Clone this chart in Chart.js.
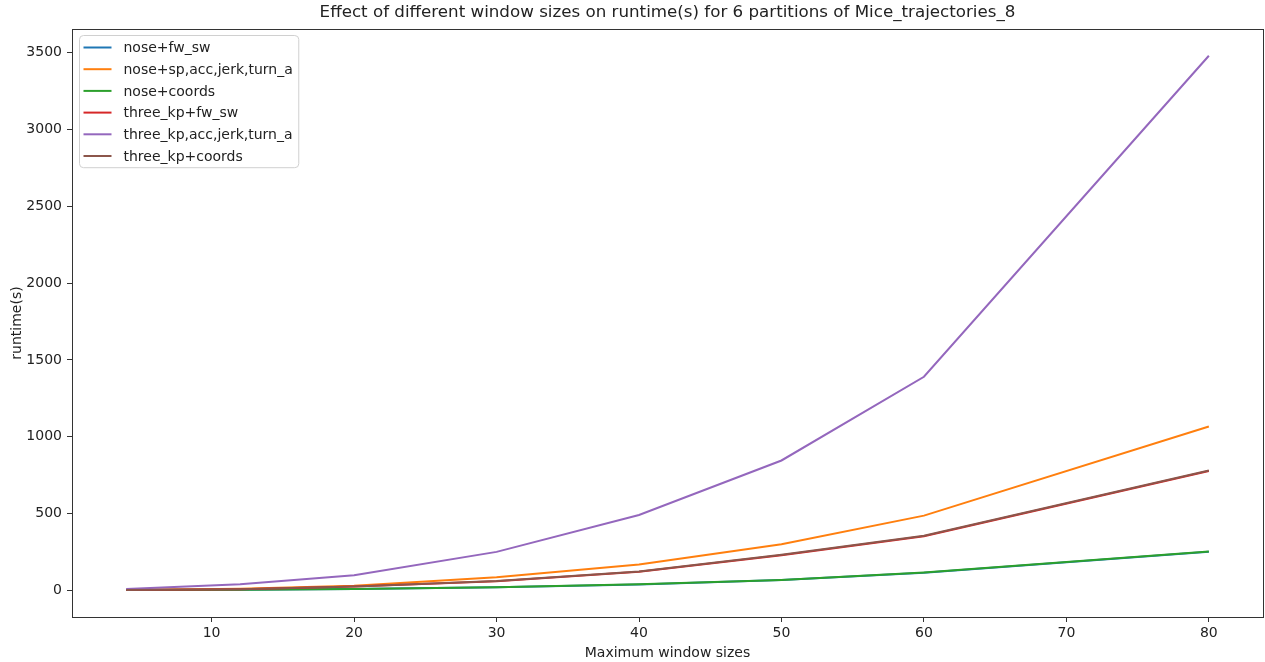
<!DOCTYPE html>
<html>
<head>
<meta charset="utf-8">
<title>Runtime vs window size</title>
<script src="https://cdn.jsdelivr.net/npm/chart.js@4"></script>
<style>
    body { margin: 0; background: #fff; }
    #wrap { width: 1265px; height: 662px; position: relative; }
</style>
</head>
<body>
<div id="wrap"><canvas id="runtimeChart"></canvas></div>
<script>
// Maximum window sizes tested
const windowSizes = [4, 12, 20, 30, 40, 50, 60, 80];

// Runtime in seconds for each feature set
const noseFwSw = [1, 3, 9, 20, 38, 67, 114, 251];
const noseSpAcc = [2, 10, 30, 85, 168, 300, 486, 1066];
const noseCoords = [1, 3, 9, 20, 39, 67, 115, 252];
const threeKpFwSw = [1, 7, 24, 59, 120, 228, 352, 776];
const threeKpAcc = [8, 39, 98, 250, 490, 845, 1390, 3480];
const threeKpCoords = [1, 7, 25, 60, 122, 231, 355, 780];

const seriesLabels = [
    'nose+fw_sw',
    'nose+sp,acc,jerk,turn_a',
    'nose+coords',
    'three_kp+fw_sw',
    'three_kp,acc,jerk,turn_a',
    'three_kp+coords'
];
const seriesValues = [noseFwSw, noseSpAcc, noseCoords, threeKpFwSw, threeKpAcc, threeKpCoords];

// Tick labels on both axes
const xTicks = [10, 20, 30, 40, 50, 60, 70, 80];
const yTicks = [0, 500, 1000, 1500, 2000, 2500, 3000, 3500];

const chartTitle = 'Effect of different window sizes on runtime(s) for 6 partitions of Mice_trajectories_8';

// matplotlib default colour cycle
const palette = ['#1f77b4', '#ff7f0e', '#2ca02c', '#d62728', '#9467bd', '#8c564b'];

const FONT = 'DejaVu Sans';
const TEXT = '#222222';
const SPINE = '#333333';

const datasets = seriesValues.map((vals, i) => ({
    label: seriesLabels[i],
    data: vals.map((v, j) => ({ x: windowSizes[j], y: v })),
    borderColor: palette[i],
    backgroundColor: palette[i],
    borderWidth: 2,
    pointRadius: 0,
    tension: 0,
    fill: false,
    // later series sit on top, like matplotlib
    order: seriesValues.length - i
}));

// Full box around the plot area (all four spines) plus a title centred over it
const framePlugin = {
    id: 'frame',
    afterDraw(chart) {
        const { ctx, chartArea: a } = chart;
        ctx.save();
        ctx.strokeStyle = SPINE;
        ctx.lineWidth = 1;
        ctx.strokeRect(Math.round(a.left) + 0.5, Math.round(a.top) + 0.5,
            Math.round(a.right - a.left), Math.round(a.bottom - a.top));
        ctx.font = `16.7px "${FONT}"`;
        ctx.fillStyle = TEXT;
        ctx.textAlign = 'center';
        ctx.textBaseline = 'middle';
        ctx.fillText(chartTitle, (a.left + a.right) / 2, a.top - 16);
        ctx.restore();
    }
};

// Legend box in the upper left corner of the plot
const boxLegendPlugin = {
    id: 'boxLegend',
    afterDatasetsDraw(chart) {
        const { ctx, chartArea: a } = chart;
        const items = chart.data.datasets;
        const rowH = 21.7;
        const x0 = a.left + 7.5;
        const y0 = a.top + 6.5;
        ctx.save();
        ctx.font = `14px "${FONT}"`;
        let textW = 0;
        items.forEach(d => { textW = Math.max(textW, ctx.measureText(d.label).width); });
        const w = 44 + textW + 6;
        const h = items.length * rowH + 2;
        ctx.beginPath();
        ctx.roundRect(x0, y0, w, h, 4);
        ctx.fillStyle = 'rgba(255,255,255,0.8)';
        ctx.fill();
        ctx.strokeStyle = '#d0d0d0';
        ctx.lineWidth = 1;
        ctx.stroke();
        ctx.textBaseline = 'middle';
        ctx.textAlign = 'left';
        items.forEach((d, i) => {
            const cy = y0 + 12 + i * rowH;
            ctx.beginPath();
            ctx.moveTo(x0 + 4, cy);
            ctx.lineTo(x0 + 32, cy);
            ctx.strokeStyle = d.borderColor;
            ctx.lineWidth = 2;
            ctx.stroke();
            ctx.fillStyle = TEXT;
            ctx.fillText(d.label, x0 + 44, cy + 1);
        });
        ctx.restore();
    }
};

const ctx = document.getElementById('runtimeChart');
new Chart(ctx, {
    type: 'line',
    data: { datasets },
    options: {
        responsive: true,
        maintainAspectRatio: false,
        animation: false,
        layout: { padding: { left: 0, right: 2, top: 29, bottom: 0 } },
        plugins: {
            legend: { display: false },
            tooltip: { enabled: false },
            title: { display: false }
        },
        scales: {
            x: {
                type: 'linear',
                min: 0.2,
                max: 83.8,
                afterBuildTicks: axis => { axis.ticks = xTicks.map(v => ({ value: v })); },
                afterFit: axis => { axis.height = 45; },
                grid: { drawOnChartArea: false, drawTicks: true, tickLength: 5, color: SPINE },
                border: { display: false },
                ticks: { color: TEXT, padding: 3, font: { family: FONT, size: 14 }, callback: v => String(v) },
                title: {
                    display: true,
                    text: 'Maximum window sizes',
                    color: TEXT,
                    font: { family: FONT, size: 14 },
                    padding: { top: 0, bottom: 0 }
                }
            },
            y: {
                type: 'linear',
                min: -174,
                max: 3654,
                afterBuildTicks: axis => { axis.ticks = yTicks.map(v => ({ value: v })); },
                afterFit: axis => { axis.width = 72; },
                grid: { drawOnChartArea: false, drawTicks: true, tickLength: 5, color: SPINE },
                border: { display: false },
                ticks: { color: TEXT, padding: 5, font: { family: FONT, size: 14 }, callback: v => String(v) },
                title: {
                    display: true,
                    text: 'runtime(s)',
                    color: TEXT,
                    font: { family: FONT, size: 14 },
                    padding: { top: 9, bottom: 0 }
                }
            }
        }
    },
    plugins: [framePlugin, boxLegendPlugin]
});
</script>
</body>
</html>
